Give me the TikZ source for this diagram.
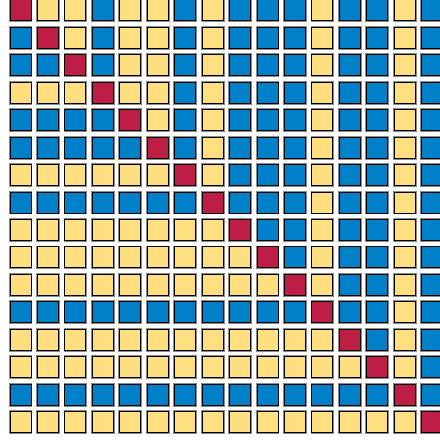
\documentclass[tikz,border=0pt]{standalone}
\definecolor{cR}{RGB}{190,30,70}
\definecolor{cB}{RGB}{0,128,200}
\definecolor{cY}{RGB}{255,223,128}
\tikzset{
  cell/.style={draw=black, line width=1pt, minimum size=21pt, inner sep=0pt,
    preaction={draw=black, draw opacity=0.45, line width=2.8pt}}
}
\begin{document}
\begin{tikzpicture}[x=1pt,y=-1pt]
\useasboundingbox (0,0) rectangle (439,441);
\foreach \r in {0,...,15}{
  \foreach \c in {0,...,15}{
    \pgfmathtruncatemacro\lr{{1,1,1,0,1,1,0,1,0,0,0,1,0,0,1,0}[\r]}
    \pgfmathtruncatemacro\lc{{1,1,1,0,1,1,0,1,0,0,0,1,0,0,1,0}[\c]}
    \pgfmathtruncatemacro\k{\c==\r ? 2 : (\c<\r ? \lr : 1-\lc)}
    \ifcase\k\def\cc{cY}\or\def\cc{cB}\or\def\cc{cR}\fi
    \node[cell, fill=\cc] (c-\r-\c) at ({20.5+27.45*\c},{10.4+27.45*\r}) {};
  }
}
\end{tikzpicture}
\end{document}
